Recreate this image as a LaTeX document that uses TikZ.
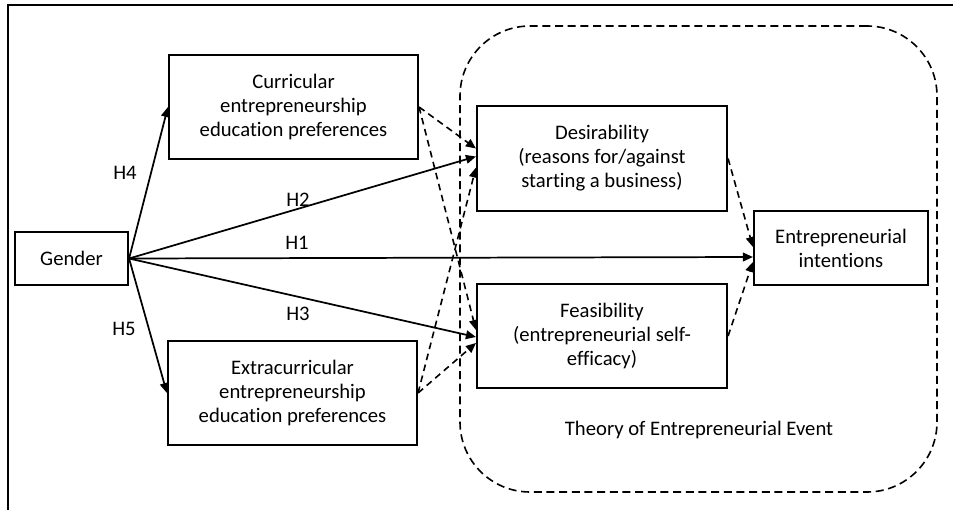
\documentclass[tikz,border=0pt]{standalone}
\usepackage{fontspec}
\setmainfont[Ligatures=NoCommon]{Carlito}
\usetikzlibrary{positioning}
\usetikzlibrary{arrows.meta}
\usetikzlibrary{calc}

\newcommand{\px}{0.75pt}

\tikzset{
  modelbox/.style={draw, line width=1.6pt, align=center, inner sep=0pt,
    font=\fontsize{15.5}{18}\selectfont},
  hypo/.style={line width=1.3pt, -{Triangle[length=7.5pt,width=6.5pt]}},
  tee/.style={line width=1.2pt, dash pattern=on 5pt off 3.5pt,
    -{Triangle[length=7.5pt,width=6.5pt]}},
  hlabel/.style={font=\fontsize{15.5}{18}\selectfont, inner sep=0pt},
}

\begin{document}
\begin{tikzpicture}[x=\px, y=-\px]

  \useasboundingbox (0,0) rectangle (953,510);

  % frame of the figure
  \draw[line width=1.6pt] (953,5) -- (8,5) -- (8,510);

  % Theory of Entrepreneurial Event
  \node[draw, line width=1.2pt, dash pattern=on 6pt off 3.5pt,
    rounded corners=70*\px, minimum width=477*\px, minimum height=466*\px]
    (teebox) at (698.5,259) {};
  \node[hlabel] (teelabel) at (699,430) {Theory of Entrepreneurial Event};

  % variables
  \node[modelbox, minimum width=113*\px, minimum height=53*\px]
    (gender) at (71.5,258.5) {Gender};
  \node[modelbox, minimum width=249*\px, minimum height=104*\px]
    (curr) at (293.5,107) {Curricular\\entrepreneurship\\education preferences};
  \node[modelbox, minimum width=249*\px, minimum height=104*\px]
    (extra) at (292.5,393) {Extracurricular\\entrepreneurship\\education preferences};
  \node[modelbox, minimum width=250*\px, minimum height=105*\px]
    (desir) at (602,158.5) {Desirability\\(reasons for/against\\starting a business)};
  \node[modelbox, minimum width=250*\px, minimum height=104*\px]
    (feas) at (602,336) {Feasibility\\(entrepreneurial self-\\efficacy)};
  \node[modelbox, minimum width=174*\px, minimum height=74*\px]
    (intent) at (841,248) {Entrepreneurial\\intentions};

  % hypotheses
  \draw[hypo] (gender.east) -- (curr.west);
  \draw[hypo] (gender.east) -- (extra.west);
  \draw[hypo] (gender.east) -- ($(desir.west)+(0,-2)$);
  \draw[hypo] (gender.east) -- ($(intent.west)+(0,9)$);
  \draw[hypo] (gender.east) -- ($(feas.west)+(0,1)$);

  \node[hlabel] (h4) at (125,173) {H4};
  \node[hlabel] (h2) at (298,200) {H2};
  \node[hlabel] (h1) at (297,243) {H1};
  \node[hlabel] (h3) at (298,314) {H3};
  \node[hlabel] (h5) at (124,329) {H5};

  % links inside the theory
  \draw[tee] (curr.east) -- ($(desir.west)+(0,-10)$);
  \draw[tee] (curr.east) -- ($(feas.west)+(0,-6)$);
  \draw[tee] (extra.east) -- ($(desir.west)+(0,9)$);
  \draw[tee] (extra.east) -- ($(feas.west)+(0,7)$);
  \draw[tee] (desir.east) -- ($(intent.west)+(0,-1)$);
  \draw[tee] (feas.east) -- ($(intent.west)+(0,14)$);

\end{tikzpicture}
\end{document}
